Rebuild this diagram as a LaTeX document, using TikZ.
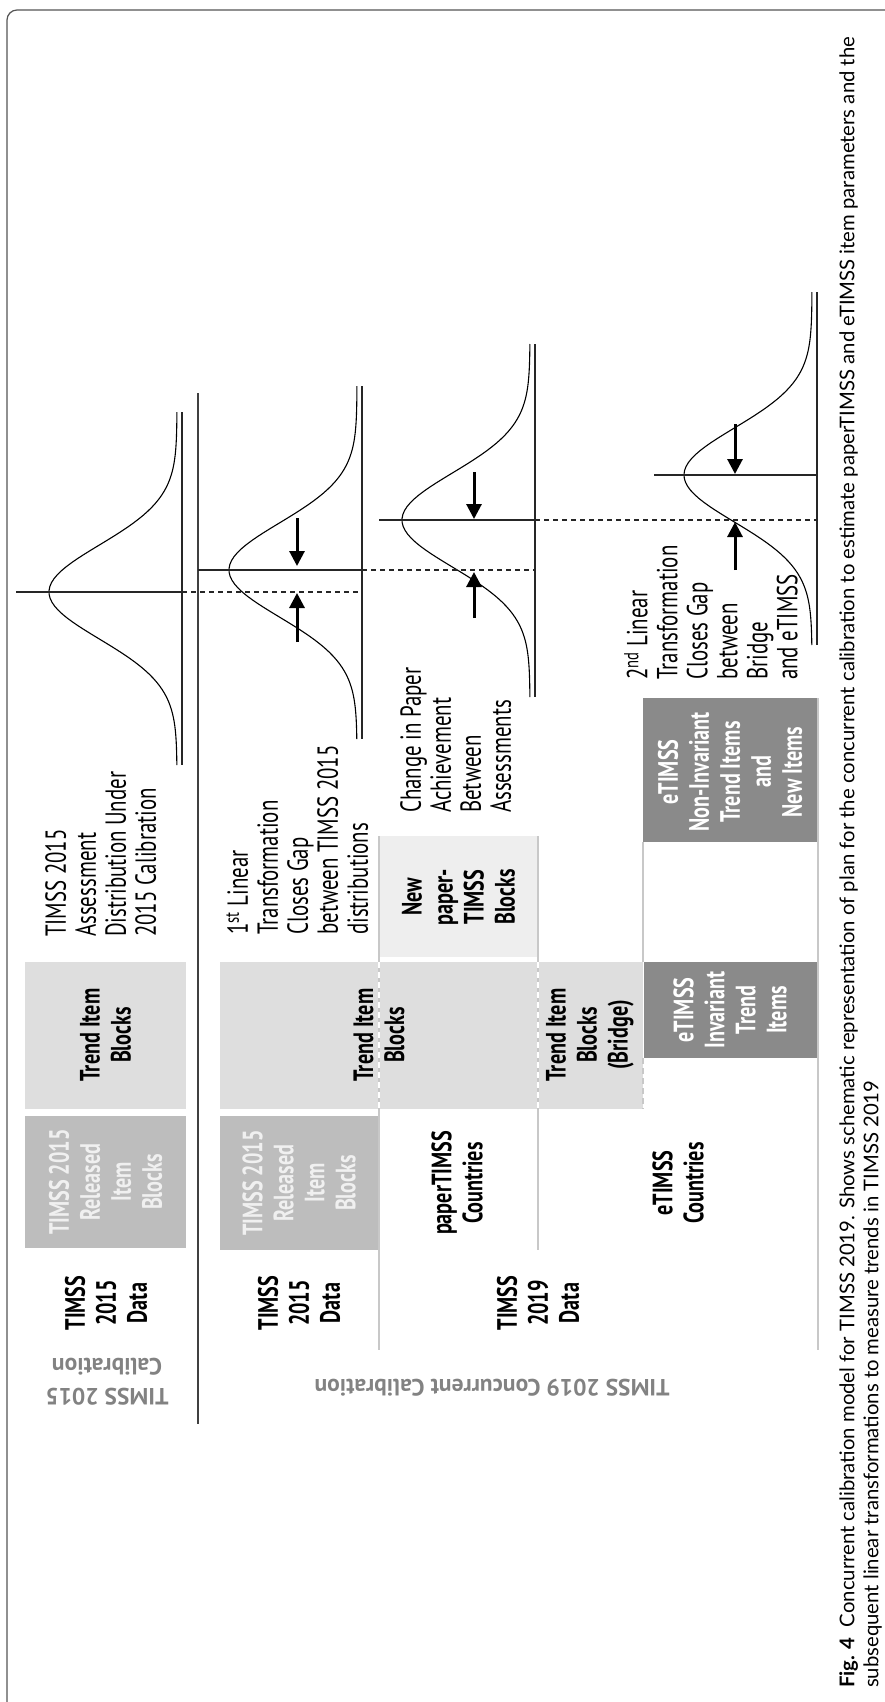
\documentclass[tikz,border=0pt]{standalone}
\usepackage{fontspec}
\setmainfont{PT Sans}
\newfontfamily\condfont[FakeStretch=0.72]{PT Sans}
\newfontfamily\capfont{Lato}
\usetikzlibrary{arrows.meta}
\definecolor{framegray}{RGB}{85,85,85}
\definecolor{rowgray}{RGB}{200,200,200}
\definecolor{relfill}{RGB}{189,189,189}
\definecolor{trendfill}{RGB}{222,222,222}
\definecolor{newfill}{RGB}{238,238,238}
\definecolor{efill}{RGB}{138,138,138}
\definecolor{sidegray}{RGB}{130,130,130}

\begin{document}
\begin{tikzpicture}[x=1pt, y=-1pt, >={Triangle[length=15pt,width=15pt]},
    lab/.style={rotate=90, inner sep=0pt, align=center, font=\condfont\bfseries\fontsize{28}{31}\selectfont},
    rellab/.style={lab, text=white!94!black},
    desc/.style={rotate=90, inner sep=0pt, align=left, anchor=north west, font=\condfont\fontsize{29}{30}\selectfont},
    sidelab/.style={rotate=180, inner sep=0pt, align=center, text=sidegray, font=\bfseries\fontsize{23.5}{30}\selectfont},
    bell/.style={line width=1.1pt},
    bellbase/.style={line width=1.2pt, black!85},
    meanline/.style={line width=1.4pt, black!85},
    gapline/.style={line width=1.2pt, black!85, dash pattern=on 5pt off 4pt},
    gaparrow/.style={->, line width=3pt},
    rowline/.style={line width=1.6pt, rowgray}]
  \useasboundingbox (0,0) rectangle (885,1702);
  \draw[framegray, line width=1.2pt, rounded corners=10pt] (895,10) -- (7,10) -- (7,1712);
  \draw[line width=1.5pt, black!75] (198,393) -- (198,1424);

  % distributions
  \draw[bellbase] (182,412) -- (182,765);
  \draw[bell] plot[domain=-180:173, samples=90] ({177-128*exp(-0.5*(\x/47)*(\x/47))}, {592+\x});
  \draw[bellbase] (362,386) -- (362,739);
  \draw[bell] plot[domain=-184:169, samples=90] ({357-128*exp(-0.5*(\x/47)*(\x/47))}, {570+\x});
  \draw[bellbase] (535,344) -- (535,697);
  \draw[bell] plot[domain=-176:177, samples=90] ({530-128*exp(-0.5*(\x/47)*(\x/47))}, {520+\x});
  \draw[bellbase] (817,292) -- (817,645);
  \draw[bell] plot[domain=-183:170, samples=90] ({812-128*exp(-0.5*(\x/47)*(\x/47))}, {475+\x});

  % means
  \draw[meanline] (16,592) -- (182,592);
  \draw[gapline] (182,592) -- (362,592);
  \draw[meanline] (198,570) -- (362,570);
  \draw[gapline] (362,570) -- (535,570);
  \draw[meanline] (379,520) -- (535,520);
  \draw[gapline] (535,520) -- (817,520);
  \draw[meanline] (654,475) -- (817,475);

  \draw[gaparrow] (297,518) -- (297,566);
  \draw[gaparrow] (297,642) -- (297,593);
  \draw[gaparrow] (474,472) -- (474,519);
  \draw[gaparrow] (474,618) -- (474,572);
  \draw[gaparrow] (735,424) -- (735,474);
  \draw[gaparrow] (735,570) -- (735,522);

  % item blocks
  \fill[relfill] (25,1116) rectangle (186,1248);
  \fill[trendfill] (25,962) rectangle (186,1109);
  \fill[relfill] (220,1116) rectangle (378,1250);
  \fill[trendfill] (220,962) rectangle (643,1109);
  \fill[newfill] (379,836) rectangle (538,957);
  \fill[efill] (644,962) rectangle (817,1058);
  \fill[efill] (643,698) rectangle (817,842);

  \draw[rowline] (379,836) -- (379,1350);
  \draw[rowline] (538,836) -- (538,1250);
  \draw[rowline] (643,842) -- (643,962);
  \draw[rowline] (818,698) -- (818,1350);
  \draw[rowline, dash pattern=on 6pt off 4pt] (643,1058) -- (643,1109);
  \draw[white, line width=1.6pt, dash pattern=on 6pt off 4pt] (379,962) -- (379,1109) (538,962) -- (538,1109);

  \node[rellab] (rel_a) at (105.5,1182) {TIMSS 2015\\Released\\Item\\Blocks};
  \node[lab] (trend_a) at (105.5,1035) {Trend Item\\Blocks};
  \node[lab] (data_a) at (106,1303) {TIMSS\\2015\\Data};
  \node[desc] (dist_a) at (45,937) {TIMSS 2015\\Assessment\\Distribution Under\\2015 Calibration};
  \node[sidelab] (calib_a) at (107,1382) {TIMSS 2015\\Calibration};

  \node[rellab] (rel_b) at (299,1183) {TIMSS 2015\\Released\\Item\\Blocks};
  \node[lab] (trend_b) at (379,1035) {Trend Item\\Blocks};
  \node[lab] (data_b) at (299,1303) {TIMSS\\2015\\Data};
  \node[desc] (gap_b) at (226,935) {1\textsuperscript{st} Linear\\Transformation\\Closes Gap\\between TIMSS 2015\\distributions};
  \node[sidelab] (calib_b) at (492,1388) {TIMSS 2019 Concurrent Calibration};

  \node[lab] (new_c) at (458.5,897) {New\\paper-\\TIMSS\\Blocks};
  \node[lab] (ctry_c) at (457,1183) {paperTIMSS\\Countries};
  \node[desc] (chg_c) at (400,813) {Change in Paper\\Achievement\\Between\\Assessments};
  \node[lab] (data_c) at (538,1303) {TIMSS\\2019\\Data};

  \node[lab] (bridge_d) at (590,1035) {Trend Item\\Blocks\\(Bridge)};
  \node[lab, text=white] (inv_d) at (730,1010) {eTIMSS\\Invariant\\Trend\\Items};
  \node[lab, text=white] (noninv_d) at (730,772) {eTIMSS\\Non-Invariant\\Trend Items\\and\\New Items};
  \node[lab] (ctry_d) at (678,1183) {eTIMSS\\Countries};
  \node[desc] (gap_d) at (624,680) {2\textsuperscript{nd} Linear\\Transformation\\Closes Gap\\between\\Bridge\\and eTIMSS};

  \node[rotate=90, anchor=north west, inner sep=0pt, align=left, font=\capfont\fontsize{20.3}{24}\selectfont] (caption) at (839,1688)
    {\textbf{Fig. 4}\hspace{0.5em}Concurrent calibration model for TIMSS 2019. Shows schematic representation of plan for the concurrent calibration to estimate paperTIMSS and eTIMSS item parameters and the\\subsequent linear transformations to measure trends in TIMSS 2019};
\end{tikzpicture}
\end{document}
